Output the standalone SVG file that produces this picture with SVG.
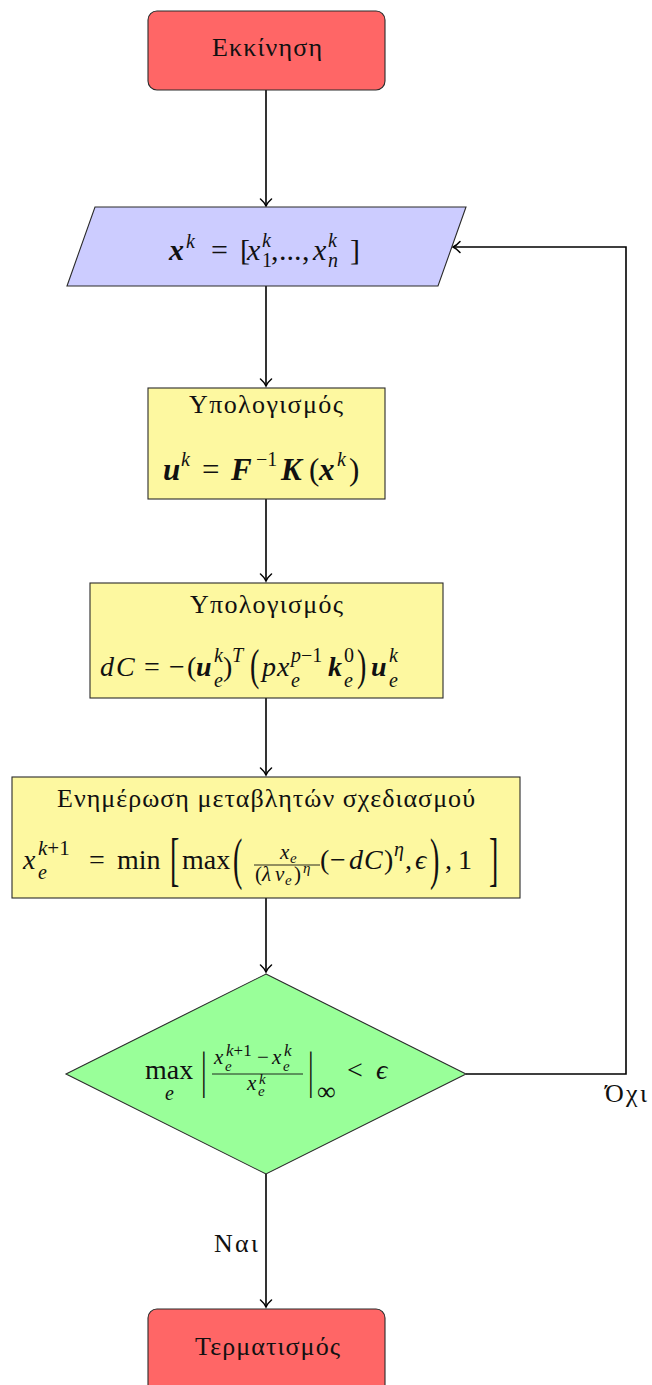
<svg xmlns="http://www.w3.org/2000/svg" width="652" height="1385" viewBox="0 0 652 1385">
<style>
.node{stroke:#2a2a2a;stroke-width:1.1}
.red{fill:#ff6666}
.blue{fill:#ccccff}
.yel{fill:#fdf8a0}
.grn{fill:#99ff99}
.t{font-family:"Liberation Serif","DejaVu Serif",serif;font-size:26px;fill:#111}
.m{font-family:"Liberation Serif","DejaVu Serif",serif;font-size:28px;fill:#111}
.i{font-style:italic}
.b{font-style:italic;font-weight:bold}
.f30{font-size:30px}
.f31{font-size:31px}
.f26{font-size:26px}
.f21{font-size:21px}
.s{font-size:20px}
.f17{font-size:17px}
.ss{font-size:15px}
.con{fill:none;stroke:#000;stroke-width:1.6}
</style>
<defs>
<marker id="ah" viewBox="-9 -7 11 14" refX="0" refY="0" markerWidth="11" markerHeight="14" orient="auto" markerUnits="userSpaceOnUse">
<path d="M-7,-5.5 C-4,-2 -1.5,-0.6 0,0 C-1.5,0.6 -4,2 -7,5.5" fill="none" stroke="#000" stroke-width="1.5" stroke-linecap="round"/>
</marker>
</defs>

<g id="connectors">
<line class="con" x1="266" y1="90" x2="266" y2="206" marker-end="url(#ah)"/>
<line class="con" x1="266" y1="286" x2="266" y2="386" marker-end="url(#ah)"/>
<line class="con" x1="266" y1="499" x2="266" y2="581" marker-end="url(#ah)"/>
<line class="con" x1="266" y1="698" x2="266" y2="775" marker-end="url(#ah)"/>
<line class="con" x1="266" y1="898" x2="266" y2="972" marker-end="url(#ah)"/>
<line class="con" x1="266" y1="1174" x2="266" y2="1307" marker-end="url(#ah)"/>
<polyline class="con" points="466,1074 626,1074 626,247 453,247" marker-end="url(#ah)"/>
<text class="t" x="214" y="1252" textLength="44">Ναι</text>
<text class="t" x="605" y="1102" textLength="42">Όχι</text>
</g>

<g id="start">
<rect class="node red" x="148" y="11" width="237" height="79" rx="9"/>
<text class="t" x="212" y="56" textLength="110">Εκκίνηση</text>
</g>

<g id="input">
<polygon class="node blue" points="95,207 466,207 438,286 67,286"/>
<text class="m f30">
<tspan class="b" x="169" y="260">x</tspan><tspan class="i s" x="186" y="248">k</tspan><tspan x="211" y="260">=</tspan><tspan x="240" y="260">[</tspan><tspan class="i" x="247" y="260">x</tspan><tspan class="s" x="262" y="267">1</tspan><tspan class="i s" x="262" y="247">k</tspan><tspan x="271" y="260">,</tspan><tspan x="279" y="260">...</tspan><tspan x="302" y="260">,</tspan><tspan class="i" x="313" y="260">x</tspan><tspan class="i s" x="328" y="267">n</tspan><tspan class="i s" x="328" y="247">k</tspan><tspan x="350" y="260">]</tspan>
</text>
</g>

<g id="calc1">
<rect class="node yel" x="148" y="388" width="237" height="111"/>
<text class="t" x="189" y="413" textLength="154">Υπολογισμός</text>
<text class="m f31">
<tspan class="b" x="163" y="480">u</tspan><tspan class="i s" x="181" y="466">k</tspan><tspan x="202" y="480">=</tspan><tspan class="b" x="231" y="480">F</tspan><tspan class="s" x="256" y="466">−1</tspan><tspan class="b" x="281" y="480">K</tspan><tspan x="309" y="480">(</tspan><tspan class="b" x="319" y="480">x</tspan><tspan class="i s" x="337" y="466">k</tspan><tspan x="349" y="480">)</tspan>
</text>
</g>

<g id="calc2">
<rect class="node yel" x="90" y="583" width="353" height="115"/>
<text class="t" x="190" y="613" textLength="153">Υπολογισμός</text>
<text class="m">
<tspan class="i" x="100" y="676">d</tspan><tspan class="i" x="116" y="676">C</tspan><tspan x="144" y="676">=</tspan><tspan x="169" y="676">−</tspan><tspan x="187" y="676">(</tspan><tspan class="b" x="196" y="676">u</tspan><tspan class="i s" x="214" y="687">e</tspan><tspan class="i s" x="214" y="662">k</tspan><tspan x="223" y="676">)</tspan><tspan class="i s" x="232" y="662">T</tspan><tspan class="i" x="262" y="676">p</tspan><tspan class="i" x="277" y="676">x</tspan><tspan class="i s" x="291" y="687">e</tspan><tspan class="s" x="291" y="662"><tspan class="i">p</tspan>−1</tspan><tspan class="b" x="328" y="676">k</tspan><tspan class="i s" x="344" y="687">e</tspan><tspan class="s" x="344" y="662">0</tspan><tspan class="b" x="371" y="676">u</tspan><tspan class="i s" x="389" y="687">e</tspan><tspan class="i s" x="389" y="662">k</tspan>
</text>
<text class="m" transform="translate(250,680) scale(1,1.55)">(</text>
<text class="m" transform="translate(357,680) scale(1,1.55)">)</text>
</g>

<g id="update">
<rect class="node yel" x="12" y="777" width="508" height="121"/>
<text class="t" x="57" y="807" textLength="418">Ενημέρωση μεταβλητών σχεδιασμού</text>
<text class="m">
<tspan class="i" x="23" y="869">x</tspan><tspan class="f21" x="38" y="855"><tspan class="i">k</tspan>+1</tspan><tspan class="i s" x="38" y="879">e</tspan><tspan x="89" y="869">=</tspan><tspan x="117" y="869">min</tspan><tspan x="182" y="869">max</tspan><tspan x="320" y="869">(</tspan><tspan x="330" y="869">−</tspan><tspan class="i" x="349" y="869">d</tspan><tspan class="i" x="364" y="869">C</tspan><tspan x="384" y="869">)</tspan><tspan class="i s" x="394" y="856">η</tspan><tspan x="405" y="869">,</tspan><tspan class="i" x="415" y="869">ϵ</tspan><tspan x="445" y="869">,</tspan><tspan x="458" y="869">1</tspan>
</text>
<text class="m" transform="translate(170,879) scale(1,2.1)">[</text>
<text class="m" transform="translate(233,878) scale(1,2)">(</text>
<text class="m" transform="translate(430,878) scale(1,2)">)</text>
<text class="m" transform="translate(489,879) scale(1,2.1)">]</text>
<text class="m f21"><tspan class="i" x="280" y="859">x</tspan><tspan class="i ss" x="290" y="863">e</tspan></text>
<line x1="254" y1="865" x2="320" y2="865" stroke="#111" stroke-width="0.9"/>
<text class="m f21"><tspan x="255" y="881">(</tspan><tspan class="i" x="262" y="881">λ</tspan><tspan class="i" x="275" y="881">v</tspan><tspan class="i ss" x="285" y="885">e</tspan><tspan x="294" y="881">)</tspan><tspan class="i ss" x="303" y="873">η</tspan></text>
</g>

<g id="check">
<polygon class="node grn" points="266,974 466,1074 266,1174 66,1074"/>
<text class="m"><tspan x="145" y="1079">max</tspan><tspan class="i s" x="165" y="1100">e</tspan></text>
<text class="m" transform="translate(201,1087) scale(1,1.8)">|</text>
<text class="m" transform="translate(308,1087) scale(1,1.8)">|</text>
<text class="m f21"><tspan class="i" x="214" y="1064">x</tspan><tspan class="i ss" x="225" y="1071">e</tspan><tspan class="f17" x="226" y="1056"><tspan class="i">k</tspan>+1</tspan><tspan x="257" y="1064">−</tspan><tspan class="i" x="272" y="1064">x</tspan><tspan class="i ss" x="283" y="1071">e</tspan><tspan class="i f17" x="284" y="1056">k</tspan></text>
<line x1="212" y1="1074" x2="303" y2="1074" stroke="#111" stroke-width="0.9"/>
<text class="m f21"><tspan class="i" x="247" y="1090">x</tspan><tspan class="i ss" x="258" y="1096">e</tspan><tspan class="i ss" x="259" y="1084">k</tspan></text>
<text class="m"><tspan class="f26" x="317" y="1100">∞</tspan><tspan x="347" y="1079">&lt;</tspan><tspan class="i" x="376" y="1079">ϵ</tspan></text>
</g>

<g id="end">
<rect class="node red" x="148" y="1309" width="237" height="90" rx="9"/>
<text class="t" x="195" y="1355" textLength="145">Τερματισμός</text>
</g>
</svg>
